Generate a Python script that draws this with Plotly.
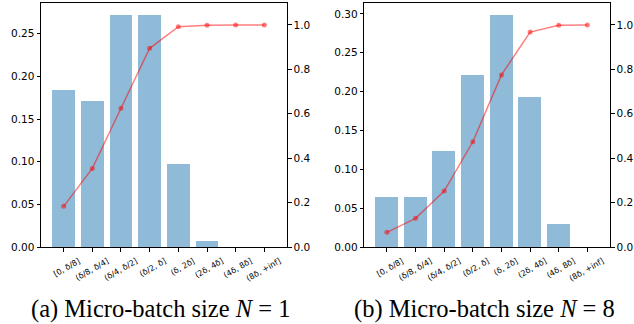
import plotly.graph_objects as go
from plotly.subplots import make_subplots

categories = ["[0, δ/8]", "(δ/8, δ/4]", "(δ/4, δ/2]", "(δ/2, δ]",
              "(δ, 2δ]", "(2δ, 4δ]", "(4δ, 8δ]", "(8δ, +inf]"]

bars_n1 = [0.184, 0.171, 0.272, 0.271, 0.097, 0.007, 0.0, 0.0]
cdf_n1 = [0.183, 0.354, 0.625, 0.895, 0.992, 0.999, 1.0, 1.0]

bars_n8 = [0.0644, 0.0644, 0.1236, 0.2214, 0.2986, 0.193, 0.0296, 0.0]
cdf_n8 = [0.066, 0.129, 0.252, 0.474, 0.775, 0.968, 0.999, 1.0]

captions = ["(a) Micro-batch size <i>N</i> = 1", "(b) Micro-batch size <i>N</i> = 8"]

W, H = 634, 324
fig = make_subplots(rows=1, cols=2, specs=[[{"secondary_y": True}, {"secondary_y": True}]])

bar_color = "rgba(31,119,180,0.5)"
line_color = "rgba(255,0,0,0.5)"

for col, (b, c) in enumerate([(bars_n1, cdf_n1), (bars_n8, cdf_n8)], start=1):
    fig.add_trace(go.Bar(x=categories, y=b, width=0.8, marker=dict(color=bar_color, line=dict(width=0)),
                         showlegend=False), row=1, col=col, secondary_y=False)
    fig.add_trace(go.Scatter(x=categories, y=c, mode="lines+markers",
                             line=dict(color=line_color, width=1.5),
                             marker=dict(color=line_color, size=5),
                             showlegend=False), row=1, col=col, secondary_y=True)

ydom = [(H - 247) / H, (H - 3.3) / H]
xd1 = [41 / W, 287 / W]
xd2 = [364.3 / W, 610 / W]

tickfont = dict(family="DejaVu Sans", size=10.5, color="black")
base = dict(showline=True, linecolor="black", linewidth=1, ticks="outside", ticklen=3.5,
            tickwidth=0.8, tickcolor="black", showgrid=False, zeroline=False, automargin=False)
xfont = dict(family="DejaVu Sans", size=8, color="black")

fig.update_layout(
    template="none",
    width=W, height=H, margin=dict(l=0, r=0, t=0, b=0),
    plot_bgcolor="white", paper_bgcolor="white", bargap=0,
    xaxis=dict(domain=xd1, range=[-0.79, 7.79], mirror=True, tickangle=-30, tickfont=xfont,
               ticklabelshift=15, ticklabelstandoff=2, **base),
    xaxis2=dict(domain=xd2, range=[-0.79, 7.79], mirror=True, tickangle=-30, tickfont=xfont,
                ticklabelshift=15, ticklabelstandoff=2, **base),
    yaxis=dict(domain=ydom, range=[0, 0.2856], tickvals=[0, 0.05, 0.10, 0.15, 0.20, 0.25],
               tickformat=".2f", tickfont=tickfont, **base),
    yaxis2=dict(domain=ydom, range=[0, 1.0977], tickvals=[0, 0.2, 0.4, 0.6, 0.8, 1.0],
                tickformat=".1f", side="right", overlaying="y", tickfont=tickfont, **base),
    yaxis3=dict(domain=ydom, range=[0, 0.3137], tickvals=[0, 0.05, 0.10, 0.15, 0.20, 0.25, 0.30],
                tickformat=".2f", tickfont=tickfont, **base),
    yaxis4=dict(domain=ydom, range=[0, 1.0977], tickvals=[0, 0.2, 0.4, 0.6, 0.8, 1.0],
                tickformat=".1f", side="right", overlaying="y3", tickfont=tickfont, **base),
)

for cx, text in zip([160 / W, 484 / W], captions):
    fig.add_annotation(x=cx, y=(H - 309) / H, xref="paper", yref="paper", text=text, showarrow=False,
                       xanchor="center", yanchor="middle",
                       font=dict(family="Liberation Serif", size=24.5, color="black"))

fig.write_html("out.html", config={"displayModeBar": False},
               post_script="document.body.style.margin='0';document.body.style.overflow='hidden';")
